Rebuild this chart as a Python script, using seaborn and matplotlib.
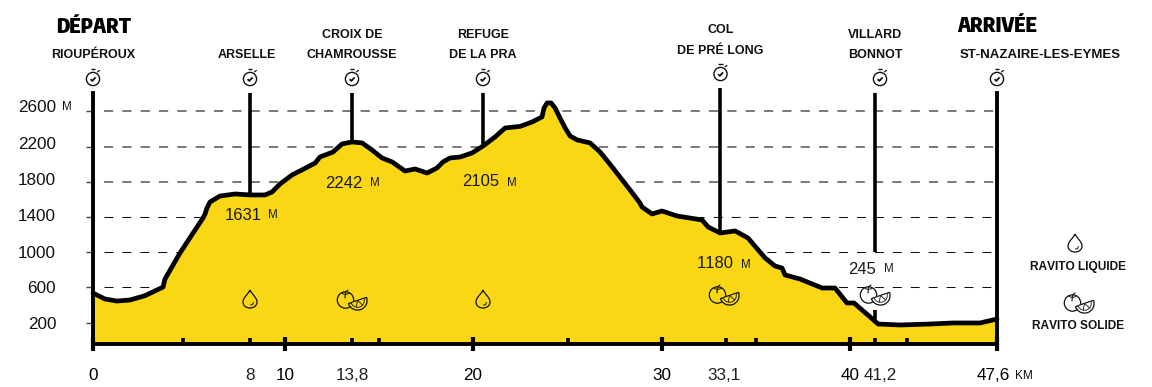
#elevation profile of the race, seaborn line + fill
import numpy as np
import pandas as pd
import seaborn as sns
from matplotlib import pyplot as plt
from matplotlib.patches import Circle, Wedge, PathPatch
from matplotlib.path import Path
from matplotlib.transforms import ScaledTranslation
import warnings
warnings.filterwarnings('ignore')

#profile
profile_km = [0, 0.63, 1.26, 1.95, 2.74, 3.69, 3.79, 4.58, 5.79, 5.9, 6.0, 6.16, 6.69, 7.48, 8.27, 9.06, 9.43,
              9.85, 10.48, 11.0, 11.7, 11.95, 12.64, 13.11, 13.64, 14.17, 14.69, 15.22, 15.75, 16.43,
              16.96, 17.59, 18.11, 18.43, 18.8, 19.33, 19.96, 20.54, 21.17, 21.7, 22.49, 23.12, 23.64,
              23.75, 23.91, 24.12, 24.33, 24.59, 24.86, 25.12, 25.49, 26.17, 26.7, 27.38, 28.28, 28.8,
              28.91, 29.44, 29.96, 30.75, 32.07, 32.39, 33.02, 33.81, 34.49, 35.39, 35.91, 36.28, 36.44,
              37.23, 38.39, 39.07, 39.7, 40.07, 40.92, 41.34, 42.5, 44.08, 45.29, 46.71, 47.6]
profile_m = [537, 469, 446, 458, 507, 605, 696, 992, 1389, 1435, 1503, 1571, 1639, 1662, 1651, 1651, 1685,
             1776, 1878, 1935, 2014, 2082, 2139, 2230, 2253, 2242, 2162, 2071, 2026, 1923,
             1946, 1900, 1957, 2026, 2071, 2082, 2128, 2207, 2310, 2412, 2430, 2480, 2537,
             2639, 2696, 2696, 2639, 2525, 2412, 2321, 2276, 2242, 2139, 1957, 1707, 1560,
             1514, 1435, 1469, 1412, 1367, 1287, 1219, 1242, 1162, 935, 844, 821, 742,
             696, 594, 594, 424, 424, 265, 185, 174, 185, 197, 197, 242]

#poles: km, bottom and top in metres
pole_km = [8.27, 13.64, 20.54, 33.02, 41.18, 41.18]
pole_bottom = [1651, 2253, 2207, 1219, 1003, 210]
pole_top = [2809, 2809, 2809, 2866, 2809, 344]

y_ticks = [200, 600, 1000, 1400, 1800, 2200, 2600]
y_label_lift = [0, 0, 0, 2, 3, 4, 5.5]
major_km = [0, 10.11, 20.01, 29.96, 39.86, 47.6]
major_labels = ['0', '10', '20', '30', '40', '47,6']
minor_km = [4.74, 8.27, 13.64, 15.06, 25.01, 33.33, 34.91, 41.18, 42.86]
minor_labels = ['', '8', '13,8', '', '', '33,1', '', '41,2', '']

#station names: x, y of each line in picture pixels
stations = [('RIOUPÉROUX', 93, 55.5), ('ARSELLE', 246.5, 55.5), ('CROIX DE', 352, 34.5), ('CHAMROUSSE', 352, 55.5),
            ('REFUGE', 483, 34.5), ('DE LA PRA', 483, 55.5), ('COL', 720.5, 30), ('DE PRÉ LONG', 720.5, 51),
            ('VILLARD', 875, 34.5), ('BONNOT', 875, 55.5)]
altitudes = [('1631', 225, 215, 268), ('2242', 325, 183, 370), ('2105', 462, 182, 507),
             ('1180', 697, 264, 741), ('245', 848, 269, 884)]
watches = [(93, 79), (250, 79), (352, 79), (483, 79), (720.5, 74), (880, 79), (997, 79)]
drops = [(250, 299), (483, 299), (1075, 243)]
fruits = [(351, 300, '#FAD714'), (723, 295, '#FAD714'), (874, 295, 'white'), (1078, 303, 'white')]

YELLOW = '#FAD714'
sns.set_theme(style='white')
plt.rcParams['font.family'] = ['Liberation Sans', 'DejaVu Sans']
plt.rcParams['text.kerning_factor'] = 6

W, H = 1152, 387
fig = plt.figure(figsize=(W / 100, H / 100), dpi=100)
ax = fig.add_axes([93 / W, 1 - 344 / H, (997 - 93) / W, (344 - 93) / H])
ax.set_xlim(0, 47.6)
ax.set_ylim(-42, 2809)
ax.set_axisbelow(False)

df = pd.DataFrame({'km': profile_km, 'm': profile_m})
for y in y_ticks[1:]:
    if y > 1400:
        ax.hlines(y, 0.6, 47.6, color='#555555', lw=1.1, linestyle=(0, (6, 6)), zorder=1)
    else:
        ax.hlines(y, 0.6, 47.6, color='#111111', lw=0.75, linestyle=(0, (8.6, 8.6)), zorder=1)
ax.fill_between(df.km, df.m, -42, color=YELLOW, lw=0, zorder=2)
ax.vlines(pole_km, pole_bottom, pole_top, color='black', lw=2.6, zorder=3, clip_on=False)
sns.lineplot(data=df, x='km', y='m', color='black', lw=3.4, estimator=None, sort=False, ax=ax, zorder=4)
ax.lines[-1].set_solid_joinstyle('round')
ax.lines[-1].set_clip_on(False)

ax.set_xlabel('')
ax.set_ylabel('')
sns.despine(ax=ax, right=False, top=True)
for s in ['left', 'right', 'bottom']:
    ax.spines[s].set_linewidth(2.8)
    ax.spines[s].set_color('black')
    ax.spines[s].set_zorder(5)

ax.set_yticks(y_ticks)
ax.tick_params(axis='y', length=5, width=1, color='#444444', pad=21.5, labelsize=12.3, labelcolor='#111111', left=True)
ax.set_xticks(major_km, major_labels)
ax.set_xticks(minor_km, minor_labels, minor=True)
ax.tick_params(axis='x', which='major', direction='inout', length=9.4, width=3, color='black',
               bottom=True, pad=12.5, labelsize=12.3, labelcolor='black')
ax.tick_params(axis='x', which='minor', direction='in', length=4.5, width=2.6, color='black',
               bottom=True, pad=17, labelsize=12.3, labelcolor='#222222')
#labels that sit off their ticks
for lab, lift in zip(ax.get_yticklabels(), y_label_lift):
    lab.set_transform(lab.get_transform() + ScaledTranslation(0, lift / 100, fig.dpi_scale_trans))
for lab in ax.get_xticklabels():
    if lab.get_text() == '47,6':
        lab.set_transform(lab.get_transform() + ScaledTranslation(-4 / 100, 0, fig.dpi_scale_trans))
for lab in ax.get_xticklabels(minor=True):
    if lab.get_text() == '41,2':
        lab.set_transform(lab.get_transform() + ScaledTranslation(5 / 100, 0, fig.dpi_scale_trans))
    if lab.get_text() == '33,1':
        lab.set_transform(lab.get_transform() + ScaledTranslation(-2 / 100, 0, fig.dpi_scale_trans))

#overlay in picture pixels for the labels and icons
top = fig.add_axes([0, 0, 1, 1], facecolor='none')
top.set_xlim(0, W)
top.set_ylim(H, 0)
top.axis('off')


def stopwatch(x, y):
    top.add_patch(Circle((x, y), 6.6, fc='none', ec='#111111', lw=1))
    top.plot([x - 2.3, x + 2.3], [y - 9.6, y - 9.6], color='#111111', lw=1, solid_capstyle='butt')
    top.plot([x + 4.6, x + 6.4], [y - 7.2, y - 8.6], color='#111111', lw=0.9)
    top.plot([x - 2.4, x - 0.7, x + 2.6], [y + 0.2, y + 1.9, y - 1.6], color='#111111', lw=1.3, solid_capstyle='butt')


def drop(x, y):
    verts = [(x, y - 9), (x - 2, y - 4.5), (x - 7, y - 1.5), (x - 7, y + 3), (x - 7, y + 7), (x - 3.5, y + 9),
             (x, y + 9), (x + 3.5, y + 9), (x + 7, y + 7), (x + 7, y + 3), (x + 7, y - 1.5), (x + 2, y - 4.5), (x, y - 9)]
    codes = [Path.MOVETO] + [Path.CURVE4] * 12
    top.add_patch(PathPatch(Path(verts, codes), fc='none', ec='#111111', lw=0.9))
    top.plot([x + 0.5, x + 2.5, x + 3.4], [y + 6, y + 5.7, y + 3.5], color='#111111', lw=0.7)


def fruit(x, y, fc):
    top.add_patch(Circle((x - 5.5, y), 8.2, fc='none', ec='#111111', lw=0.9))
    top.plot([x - 6, x - 5.5, x - 3], [y - 2, y - 8, y - 10], color='#111111', lw=0.8)
    top.plot([x - 9, x - 5.5, x - 2], [y - 6.5, y - 5.5, y - 6.5], color='#111111', lw=0.7)
    top.add_patch(Wedge((x + 6.5, y + 0.5), 9.6, -19, 161, fc=fc, ec='#111111', lw=0.9, zorder=5))
    top.add_patch(Wedge((x + 6.5, y + 0.5), 6.8, -19, 161, fc=fc, ec='#111111', lw=0.6, zorder=5))
    for a in [41, 101]:
        t = np.radians(a)
        top.plot([x + 6.5, x + 6.5 + 6.8 * np.cos(t)], [y + 0.5, y + 0.5 + 6.8 * np.sin(t)], color='#111111', lw=0.6, zorder=6)


for name, x, y in stations:
    top.text(x, y, name, ha='center', va='center', fontsize=9, fontweight='bold', color='#111111')
top.text(1040, 55.5, 'ST-NAZAIRE-LES-EYMES', ha='center', va='center', fontsize=9.5, fontweight='bold', color='#111111')
narrow = ['Encode Sans Condensed', 'Liberation Sans']
top.text(93.5, 27, 'DÉPART', ha='center', va='center', fontsize=14.5, fontweight=900, color='black', family=narrow)
top.text(997, 26, 'ARRIVÉE', ha='center', va='center', fontsize=14.5, fontweight=900, color='black', family=narrow)
top.text(1078, 267, 'RAVITO LIQUIDE', ha='center', va='center', fontsize=8.6, fontweight='bold', color='#111111')
top.text(1078, 326, 'RAVITO SOLIDE', ha='center', va='center', fontsize=8.6, fontweight='bold', color='#111111')
for val, x, y, mx in altitudes:
    top.text(x, y, val, ha='left', va='center', fontsize=12, color='#1a1a1a')
    top.text(mx, y + 0.5, 'M', ha='left', va='center', fontsize=8.4, color='#1a1a1a')
top.text(62, 107, 'M', ha='left', va='center', fontsize=8.4, color='#111111')
top.text(1015, 376, 'KM', ha='left', va='center', fontsize=8.6, color='#111111')

for x, y in watches:
    stopwatch(x, y)
for x, y in drops:
    drop(x, y)
for x, y, fc in fruits:
    fruit(x, y, fc)

fig.savefig('out.png', dpi=100, facecolor='white')
